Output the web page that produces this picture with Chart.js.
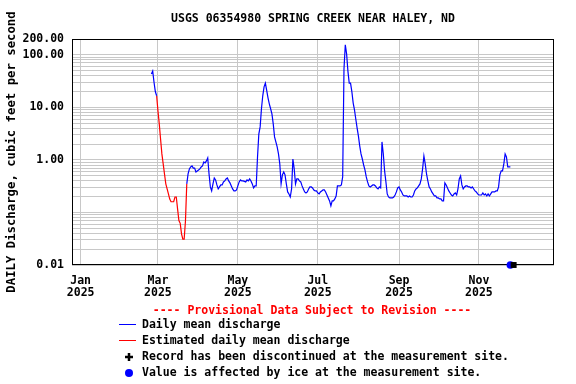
<!DOCTYPE html>
<html>
<head>
<meta charset="utf-8">
<script src="https://cdn.jsdelivr.net/npm/chart.js@4.4.1/dist/chart.umd.min.js"></script>
<style>
  body { margin: 0; background: #fff; }
  canvas { display: block; }
</style>
</head>
<body>
<canvas id="myChart" width="576" height="384"></canvas>
<script>
// day numbers are days since Jan 1 2025 (Jan 1 = 0)
const firstDay = 54; // Feb 24
const flow = [
  43, 49, 30, 20, 16.6, 8.6, 4.85, 2.5, 1.3, 0.84,
  0.54, 0.35, 0.28, 0.225, 0.18, 0.16, 0.16, 0.16, 0.197, 0.197,
  0.116, 0.07, 0.062, 0.039, 0.031, 0.031, 0.069, 0.35, 0.54, 0.674,
  0.736, 0.77, 0.70, 0.70, 0.59, 0.617, 0.645, 0.674, 0.736, 0.77,
  0.916, 0.877, 0.957, 1.09, 0.54, 0.306, 0.257, 0.349, 0.454, 0.416,
  0.334, 0.28, 0.306, 0.334, 0.334, 0.381, 0.398, 0.435, 0.454, 0.398,
  0.365, 0.32, 0.28, 0.257, 0.257, 0.268, 0.32, 0.381, 0.416, 0.398,
  0.398, 0.39, 0.381, 0.416, 0.398, 0.435, 0.398, 0.349, 0.293, 0.32,
  0.32, 1.14, 3.1, 4.25, 9.4, 16.6, 24.6, 29, 21, 15.2,
  11.7, 9.4, 7.5, 4.85, 2.74, 2.2, 1.77, 1.30, 0.84, 0.35,
  0.52, 0.59, 0.52, 0.349, 0.246, 0.225, 0.197, 0.28, 1.04, 0.674,
  0.349, 0.435, 0.435, 0.398, 0.381, 0.32, 0.28, 0.246, 0.235, 0.246,
  0.28, 0.306, 0.306, 0.293, 0.268, 0.257, 0.257, 0.235, 0.225, 0.246,
  0.257, 0.268, 0.268, 0.246, 0.215, 0.189, 0.166, 0.133, 0.166, 0.166,
  0.181, 0.206, 0.32, 0.32, 0.32, 0.334, 0.475, 54, 155, 104,
  49, 29, 29, 20, 12.2, 9, 6.0, 4.07, 2.87, 1.85,
  1.30, 1.04, 0.80, 0.645, 0.475, 0.381, 0.32, 0.306, 0.32, 0.334,
  0.334, 0.32, 0.293, 0.28, 0.306, 0.293, 2.2, 1.30, 0.617, 0.381,
  0.225, 0.197, 0.189, 0.189, 0.189, 0.197, 0.215, 0.246, 0.293, 0.306,
  0.268, 0.246, 0.215, 0.206, 0.206, 0.206, 0.197, 0.206, 0.197, 0.197,
  0.215, 0.257, 0.28, 0.293, 0.32, 0.349, 0.435, 0.674, 1.19, 0.84,
  0.54, 0.398, 0.306, 0.28, 0.246, 0.225, 0.206, 0.206, 0.189, 0.189,
  0.181, 0.181, 0.166, 0.166, 0.365, 0.334, 0.293, 0.257, 0.235, 0.215,
  0.206, 0.225, 0.235, 0.215, 0.28, 0.435, 0.496, 0.334, 0.28, 0.306,
  0.32, 0.32, 0.306, 0.306, 0.293, 0.306, 0.28, 0.257, 0.246, 0.225,
  0.215, 0.215, 0.215, 0.235, 0.215, 0.225, 0.206, 0.225, 0.206, 0.225,
  0.246, 0.246, 0.246, 0.257, 0.257, 0.306, 0.52, 0.617, 0.617, 0.84,
  1.30, 1.14, 0.736, 0.736, 0.736
];
// estimated (red) stretch, first and last day
const estFrom = 58;
const estTo = 81;

const iceDays = [328];
const discontinuedDays = [330.5];

const monthDays = [0, 59, 120, 181, 243, 304];
const monthNames = ['Jan', 'Mar', 'May', 'Jul', 'Sep', 'Nov'];
const yearLabel = '2025';

const yLabelValues = [0.01, 1, 10, 100, 200];
const yLabelText = ['0.01', '1.00', '10.00', '100.00', '200.00'];

const FONT = '"DejaVu Sans Mono", "Liberation Mono", monospace';

const blueData = flow.map((v, i) => {
  const d = firstDay + i;
  return { x: d, y: (d > estFrom && d < estTo) ? null : v };
});
const redData = flow.map((v, i) => {
  const d = firstDay + i;
  return { x: d, y: (d >= estFrom && d <= estTo) ? v : null };
});

const extras = {
  id: 'extras',
  beforeDatasetsDraw(chart) {
    const { ctx, chartArea: a } = chart;
    ctx.save();
    ctx.strokeStyle = '#000';
    ctx.lineWidth = 1;
    ctx.strokeRect(a.left + 0.5, a.top + 0.5, a.right - a.left - 1, a.bottom - a.top - 1);
    ctx.restore();
  },
  afterDraw(chart) {
    const { ctx, chartArea: a } = chart;
    const cx = (a.left + a.right) / 2;
    ctx.save();
    ctx.font = 'bold 11.5px ' + FONT;
    ctx.textBaseline = 'middle';
    ctx.textAlign = 'center';
    ctx.fillStyle = '#000';
    ctx.fillText('USGS 06354980 SPRING CREEK NEAR HALEY, ND', cx, 19);
    ctx.fillStyle = '#ff0000';
    ctx.fillText('---- Provisional Data Subject to Revision ----', cx - 1, 311);

    ctx.textAlign = 'left';
    ctx.fillStyle = '#000';
    ctx.fillText('Daily mean discharge', 142, 325);
    ctx.fillText('Estimated daily mean discharge', 142, 341);
    ctx.fillText('Record has been discontinued at the measurement site.', 142, 357);
    ctx.fillText('Value is affected by ice at the measurement site.', 142, 373);

    ctx.lineWidth = 1;
    ctx.strokeStyle = '#0000ff';
    ctx.beginPath(); ctx.moveTo(119, 324.5); ctx.lineTo(136, 324.5); ctx.stroke();
    ctx.strokeStyle = '#ff0000';
    ctx.beginPath(); ctx.moveTo(119, 340.5); ctx.lineTo(136, 340.5); ctx.stroke();

    ctx.strokeStyle = '#000';
    ctx.lineWidth = 2.5;
    ctx.beginPath();
    ctx.moveTo(125, 357); ctx.lineTo(133, 357);
    ctx.moveTo(129, 353); ctx.lineTo(129, 361);
    ctx.stroke();

    ctx.fillStyle = '#0000ff';
    ctx.beginPath(); ctx.arc(129, 373, 4, 0, Math.PI * 2); ctx.fill();
    ctx.restore();
  }
};

const ctx = document.getElementById('myChart');
new Chart(ctx, {
  type: 'line',
  data: {
    datasets: [
      {
        data: blueData,
        borderColor: '#0000ff',
        borderWidth: 1.2,
        pointRadius: 0,
        spanGaps: false,
        tension: 0
      },
      {
        data: redData,
        borderColor: '#ff0000',
        borderWidth: 1.2,
        pointRadius: 0,
        spanGaps: false,
        tension: 0
      },
      {
        data: discontinuedDays.map(d => ({ x: d, y: 0.01 })),
        showLine: false,
        pointStyle: 'rect',
        pointRadius: 4.2,
        backgroundColor: '#000',
        borderColor: '#000',
        borderWidth: 0,
        clip: false
      },
      {
        data: iceDays.map(d => ({ x: d, y: 0.01 })),
        showLine: false,
        pointStyle: 'circle',
        pointRadius: 3.8,
        backgroundColor: '#0000ff',
        borderColor: '#0000ff',
        borderWidth: 0,
        clip: false
      }
    ]
  },
  options: {
    responsive: false,
    animation: false,
    layout: { padding: { left: 0, top: 39, right: 22, bottom: 0 } },
    plugins: {
      legend: { display: false },
      tooltip: { enabled: false },
      title: { display: false }
    },
    scales: {
      x: {
        type: 'linear',
        min: -6.6,
        max: 361.3,
        afterBuildTicks: (scale) => {
          scale.ticks = monthDays.map(v => ({ value: v }));
        },
        afterFit: (scale) => { scale.height = 119; },
        ticks: {
          autoSkip: false,
          maxRotation: 0,
          padding: 10,
          color: '#000',
          font: { family: FONT, size: 11.5, weight: 'bold', lineHeight: 1.05 },
          callback: (v) => {
            const i = monthDays.indexOf(v);
            return i >= 0 ? [monthNames[i], yearLabel] : '';
          }
        },
        grid: { color: '#c8c8c8', lineWidth: 1, drawTicks: false },
        border: { display: false }
      },
      y: {
        type: 'logarithmic',
        min: 0.01,
        max: 200,
        afterBuildTicks: (scale) => {
          const t = [];
          [0.01, 0.1, 1, 10].forEach(dec => {
            for (let k = 1; k <= 9; k++) t.push({ value: +(dec * k).toPrecision(3) });
          });
          t.push({ value: 100 }, { value: 200 });
          scale.ticks = t;
        },
        afterFit: (scale) => { scale.width = 72; },
        ticks: {
          autoSkip: false,
          padding: 8,
          color: '#000',
          font: { family: FONT, size: 11.5, weight: 'bold' },
          callback: (v) => {
            const i = yLabelValues.findIndex(x => Math.abs(x - v) < 1e-9);
            return i >= 0 ? yLabelText[i] : '';
          }
        },
        title: {
          display: true,
          text: 'DAILY Discharge, cubic feet per second',
          color: '#000',
          font: { family: FONT, size: 12.3, weight: 'bold' },
          padding: { top: 4, bottom: 4 }
        },
        grid: { color: '#c8c8c8', lineWidth: 1, drawTicks: false },
        border: { display: false }
      }
    }
  },
  plugins: [extras]
});
</script>
</body>
</html>
